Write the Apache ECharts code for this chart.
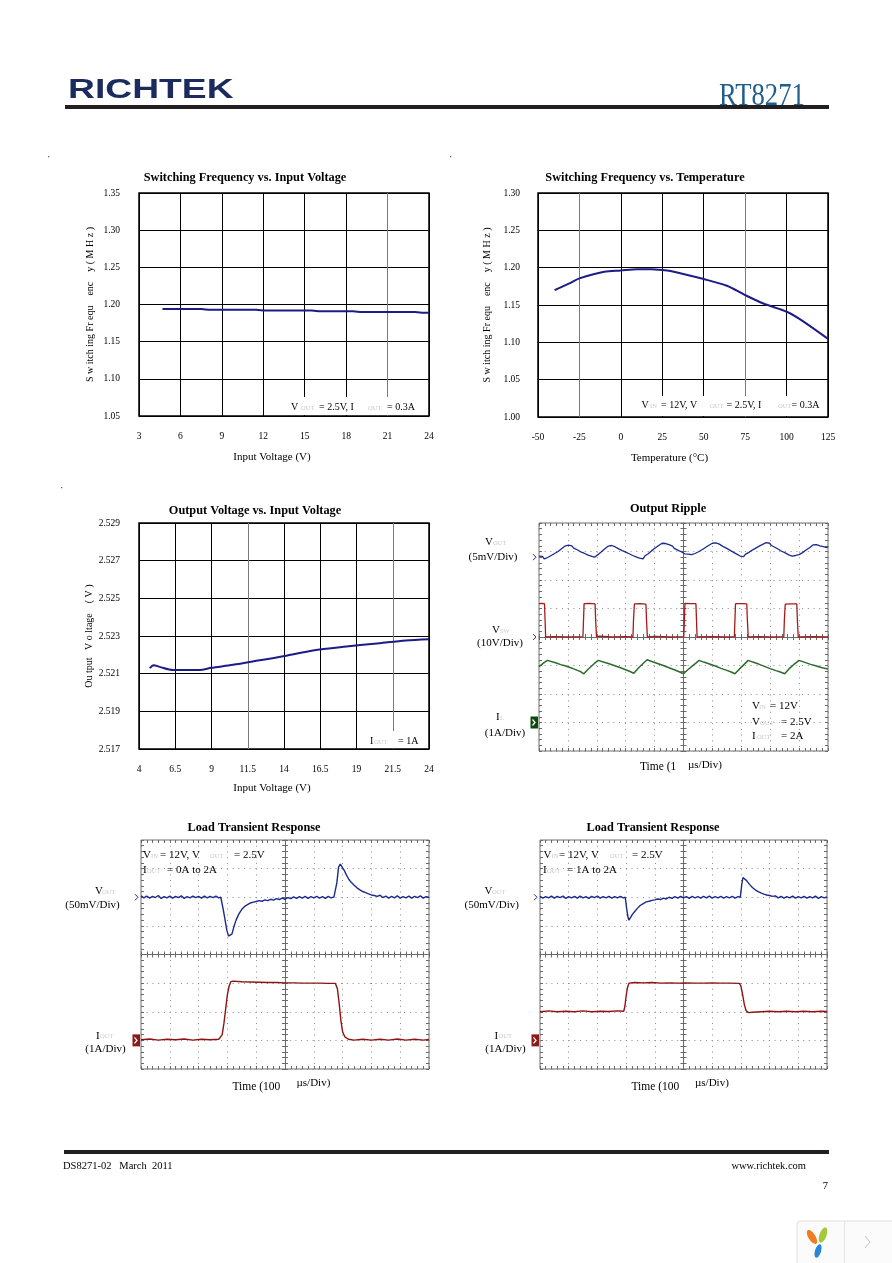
<!DOCTYPE html>
<html><head><meta charset="utf-8">
<script src="https://cdn.jsdelivr.net/npm/echarts@6.0.0/dist/echarts.min.js"></script>
<style>html,body{margin:0;padding:0;background:#fff}#c{width:892px;height:1263px}</style>
</head><body><div id="c"></div>
<script>
const SERIF = 'Liberation Serif';
const BLUE = '#1b2a8c', RED = '#a31b1b', GREEN = '#2c6b2c', IRED = '#8e1414';

// ---- Chart 1: Switching Frequency vs. Input Voltage
const c1Vin  = [4.7, 6, 7.5, 8, 10, 11.5, 12, 14, 15.5, 16, 18.5, 19, 21, 23, 23.5, 24];
const c1Freq = [1.194, 1.194, 1.194, 1.193, 1.193, 1.193, 1.192, 1.192, 1.192, 1.191, 1.191, 1.190, 1.190, 1.190, 1.189, 1.189];

// ---- Chart 2: Switching Frequency vs. Temperature
const c2Temp = [-40, -30, -25, -10, 0, 10, 18, 25, 30, 50, 64, 75, 86, 100, 108, 125];
const c2Freq = [1.170, 1.180, 1.1856, 1.1945, 1.1963, 1.198, 1.198, 1.197, 1.1955, 1.1847, 1.1758, 1.1633, 1.152, 1.141, 1.131, 1.1046];

// ---- Chart 3: Output Voltage vs. Input Voltage
const c3Vin  = [4.74, 5.01, 5.43, 6.34, 8.18, 8.99, 10.48, 12.32, 14.16, 16.0, 18.3, 20.6, 22.4, 24];
const c3Vout = [2.52129, 2.52145, 2.52136, 2.5212, 2.5212, 2.52131, 2.52147, 2.52171, 2.52195, 2.52223, 2.52244, 2.52262, 2.52276, 2.52283];
const c3VinMin = 4, c3VoutMin = 2.517;

// ---- Scope traces: [time in divisions 0..10, level in divisions -4..4]
const ripVout = [[0.00,2.84],[0.06,2.78],[0.12,2.83],[0.18,2.74],[0.24,2.71],[0.30,2.79],[0.36,2.76],[0.42,2.86],[0.48,2.84],[0.54,2.93],[0.60,2.90],[0.66,3.00],[0.72,3.04],[0.78,3.10],[0.84,3.08],[0.90,3.19],[0.96,3.26],[1.02,3.22],[1.08,3.18],[1.14,3.20],[1.20,3.12],[1.26,3.15],[1.32,3.06],[1.38,3.09],[1.44,2.99],[1.50,3.03],[1.56,2.94],[1.62,2.97],[1.68,2.88],[1.74,2.92],[1.80,2.84],[1.86,2.87],[1.92,2.80],[1.98,2.86],[2.04,2.89],[2.10,2.95],[2.16,2.99],[2.22,3.06],[2.28,3.10],[2.34,3.16],[2.40,3.19],[2.46,3.25],[2.52,3.21],[2.58,3.24],[2.64,3.16],[2.70,3.18],[2.76,3.09],[2.82,3.12],[2.88,3.03],[2.94,3.06],[3.00,2.98],[3.06,3.01],[3.12,2.92],[3.18,2.95],[3.24,2.86],[3.30,2.90],[3.36,2.81],[3.42,2.84],[3.48,2.77],[3.54,2.82],[3.60,2.74],[3.66,2.84],[3.72,2.87],[3.78,2.92],[3.84,2.96],[3.90,3.03],[3.96,3.06],[4.02,3.12],[4.08,3.16],[4.14,3.21],[4.20,3.24],[4.26,3.29],[4.32,3.26],[4.38,3.28],[4.44,3.21],[4.50,3.24],[4.56,3.17],[4.62,3.19],[4.68,3.11],[4.74,3.14],[4.80,3.05],[4.86,3.08],[4.92,2.99],[4.98,3.02],[5.04,2.92],[5.10,2.86],[5.16,2.91],[5.22,2.84],[5.28,2.89],[5.34,2.86],[5.40,2.93],[5.46,2.95],[5.52,2.99],[5.58,3.02],[5.64,3.06],[5.70,3.10],[5.76,3.14],[5.82,3.18],[5.88,3.22],[5.94,3.26],[6.00,3.29],[6.06,3.33],[6.12,3.30],[6.18,3.34],[6.24,3.26],[6.30,3.24],[6.36,3.18],[6.42,3.20],[6.48,3.12],[6.54,3.14],[6.60,3.05],[6.66,3.08],[6.72,2.98],[6.78,3.00],[6.84,2.91],[6.90,2.94],[6.96,2.84],[7.02,2.89],[7.08,2.82],[7.14,2.90],[7.20,2.92],[7.26,2.97],[7.32,3.00],[7.38,3.05],[7.44,3.08],[7.50,3.12],[7.56,3.14],[7.62,3.19],[7.68,3.22],[7.74,3.25],[7.80,3.28],[7.86,3.31],[7.92,3.27],[7.98,3.29],[8.04,3.21],[8.10,3.23],[8.16,3.15],[8.22,3.17],[8.28,3.08],[8.34,3.10],[8.40,3.01],[8.46,3.03],[8.52,2.95],[8.58,2.97],[8.64,2.88],[8.70,2.91],[8.76,2.84],[8.82,2.80],[8.88,2.86],[8.94,2.83],[9.00,2.89],[9.06,2.93],[9.12,2.96],[9.18,3.02],[9.24,3.05],[9.30,3.10],[9.36,3.13],[9.42,3.19],[9.48,3.23],[9.54,3.28],[9.60,3.24],[9.66,3.26],[9.72,3.20],[9.78,3.22],[9.84,3.17],[9.90,3.19],[9.96,3.14],[10.00,3.16]];
const ripVsw = [[0,1.17],[0.1,1.18],[0.19,1.17],[0.21,0.6],[0.23,0.0],[0.5,0.01],[1.0,0.0],[1.52,0.01],[1.54,0.6],[1.56,1.17],[1.75,1.18],[1.94,1.16],[1.96,0.6],[1.99,0.01],[2.1,0.03],[2.5,0.0],[3.0,0.01],[3.25,0.0],[3.27,0.6],[3.30,1.16],[3.5,1.17],[3.70,1.15],[3.72,0.6],[3.75,0.0],[4.0,0.02],[4.5,0.0],[5.01,0.01],[5.03,0.6],[5.05,1.18],[5.25,1.17],[5.43,1.17],[5.45,0.6],[5.47,0.0],[6.0,0.01],[6.5,0.0],[6.76,0.01],[6.78,0.6],[6.80,1.17],[7.0,1.17],[7.19,1.16],[7.21,0.6],[7.24,0.0],[7.6,0.01],[8.0,0.0],[8.47,0.01],[8.49,0.6],[8.52,1.15],[8.7,1.16],[8.92,1.16],[8.94,0.6],[8.97,0.0],[9.5,0.01],[10,0.0]];
const ripIL = [[0,-1.04],[0.1,-0.96],[0.2,-0.88],[0.29,-0.82],[0.45,-0.87],[0.6,-0.91],[0.75,-0.97],[0.9,-1.01],[1.05,-1.06],[1.2,-1.12],[1.35,-1.18],[1.45,-1.22],[1.55,-1.29],[1.7,-1.13],[1.85,-0.99],[1.95,-0.9],[2.05,-0.82],[2.2,-0.87],[2.4,-0.93],[2.6,-1.0],[2.8,-1.07],[3.0,-1.15],[3.15,-1.21],[3.28,-1.27],[3.45,-1.08],[3.6,-0.93],[3.74,-0.80],[3.9,-0.86],[4.1,-0.93],[4.3,-1.0],[4.5,-1.08],[4.7,-1.16],[4.85,-1.22],[5.0,-1.29],[5.15,-1.15],[5.3,-1.02],[5.45,-0.9],[5.54,-0.82],[5.7,-0.88],[5.9,-0.95],[6.1,-1.02],[6.3,-1.1],[6.5,-1.17],[6.65,-1.23],[6.78,-1.29],[6.95,-1.11],[7.1,-0.96],[7.24,-0.82],[7.4,-0.88],[7.6,-0.95],[7.8,-1.03],[8.0,-1.11],[8.2,-1.18],[8.35,-1.23],[8.5,-1.29],[8.65,-1.12],[8.8,-0.98],[9.0,-0.82],[9.2,-0.89],[9.4,-0.96],[9.6,-1.02],[9.8,-1.08],[10,-1.12]];

const lt1Vout = [[0,2.05],[0.1,1.98],[0.2,2.04],[0.3,1.97],[0.4,2.03],[0.5,1.99],[0.6,2.06],[0.7,1.96],[0.8,2.02],[0.9,1.98],[1.0,2.04],[1.1,1.97],[1.2,2.03],[1.3,1.99],[1.4,2.05],[1.5,1.96],[1.6,2.02],[1.7,1.98],[1.8,2.04],[1.9,1.99],[2.0,2.03],[2.1,1.97],[2.2,2.04],[2.3,1.98],[2.4,2.03],[2.5,1.99],[2.6,2.04],[2.7,1.98],[2.77,2.0],[2.85,1.6],[2.92,1.2],[2.98,0.85],[3.04,0.64],[3.1,0.62],[3.16,0.72],[3.22,0.95],[3.3,1.2],[3.4,1.42],[3.5,1.58],[3.6,1.68],[3.7,1.74],[3.8,1.80],[3.9,1.83],[4.0,1.85],[4.1,1.88],[4.2,1.86],[4.3,1.91],[4.4,1.88],[4.5,1.93],[4.6,1.90],[4.7,1.95],[4.8,1.92],[4.9,1.97],[5.0,1.93],[5.1,1.99],[5.2,1.95],[5.3,2.01],[5.4,1.96],[5.5,2.02],[5.6,1.97],[5.7,2.03],[5.8,1.96],[5.9,2.02],[6.0,1.98],[6.1,2.03],[6.2,1.97],[6.3,2.02],[6.4,1.96],[6.5,2.03],[6.6,1.98],[6.7,2.01],[6.75,2.0],[6.8,2.5],[6.86,3.05],[6.92,3.16],[6.98,3.12],[7.05,2.95],[7.13,2.78],[7.22,2.62],[7.3,2.52],[7.4,2.42],[7.5,2.33],[7.6,2.26],[7.7,2.20],[7.8,2.16],[7.9,2.12],[8.0,2.08],[8.1,2.06],[8.2,2.03],[8.3,2.07],[8.4,1.99],[8.5,2.04],[8.6,1.97],[8.7,2.03],[8.8,1.98],[8.9,2.05],[9.0,1.97],[9.1,2.02],[9.2,1.98],[9.3,2.04],[9.4,1.97],[9.5,2.03],[9.6,1.99],[9.7,2.05],[9.8,1.97],[9.9,2.02],[10,1.99]];
const lt1Iout = [[0,-2.98],[0.3,-2.95],[0.6,-2.99],[0.9,-2.96],[1.2,-2.98],[1.5,-2.95],[1.8,-2.99],[2.1,-2.96],[2.4,-2.98],[2.7,-2.96],[2.76,-2.95],[2.82,-2.8],[2.88,-2.4],[2.94,-1.9],[3.0,-1.4],[3.06,-1.1],[3.12,-0.95],[3.2,-0.93],[3.5,-0.95],[3.8,-0.96],[4.1,-0.97],[4.4,-0.98],[4.7,-0.98],[5.0,-0.99],[5.3,-0.99],[5.6,-1.0],[5.9,-1.0],[6.2,-1.0],[6.5,-1.01],[6.75,-1.01],[6.82,-1.2],[6.88,-1.7],[6.94,-2.3],[7.0,-2.7],[7.08,-2.88],[7.2,-2.96],[7.4,-2.99],[7.7,-2.96],[8.0,-2.99],[8.3,-2.96],[8.6,-2.99],[8.9,-2.95],[9.2,-2.99],[9.5,-2.96],[9.8,-2.99],[10,-2.97]];

const lt2Vout = [[0,2.03],[0.1,1.97],[0.2,2.02],[0.3,1.98],[0.4,2.04],[0.5,1.97],[0.6,2.03],[0.7,1.99],[0.8,2.04],[0.9,1.96],[1.0,2.02],[1.1,1.98],[1.2,2.03],[1.3,1.97],[1.4,2.04],[1.5,1.98],[1.6,2.02],[1.7,1.96],[1.8,2.03],[1.9,1.99],[2.0,2.04],[2.1,1.97],[2.2,2.02],[2.3,1.98],[2.4,2.03],[2.5,1.97],[2.6,2.02],[2.7,1.98],[2.8,2.03],[2.9,1.98],[2.97,2.0],[3.02,1.6],[3.07,1.28],[3.1,1.2],[3.15,1.26],[3.22,1.4],[3.3,1.5],[3.4,1.62],[3.5,1.72],[3.6,1.78],[3.7,1.84],[3.8,1.86],[3.9,1.89],[4.0,1.91],[4.1,1.94],[4.2,1.92],[4.3,1.97],[4.4,1.94],[4.5,2.0],[4.6,1.96],[4.7,2.02],[4.8,1.97],[4.9,2.03],[5.0,1.98],[5.1,2.02],[5.2,1.96],[5.3,2.03],[5.4,1.98],[5.5,2.02],[5.6,1.97],[5.7,2.03],[5.8,1.98],[5.9,2.04],[6.0,1.97],[6.1,2.02],[6.2,1.98],[6.3,2.03],[6.4,1.97],[6.5,2.02],[6.6,1.98],[6.7,2.03],[6.8,1.97],[6.9,2.02],[6.98,2.0],[7.03,2.45],[7.07,2.69],[7.12,2.66],[7.2,2.58],[7.3,2.45],[7.4,2.34],[7.5,2.26],[7.6,2.2],[7.7,2.15],[7.8,2.11],[7.9,2.08],[8.0,2.06],[8.1,2.03],[8.2,2.05],[8.3,1.98],[8.4,2.03],[8.5,1.97],[8.6,2.02],[8.7,1.98],[8.8,2.04],[8.9,1.97],[9.0,2.02],[9.1,1.98],[9.2,2.03],[9.3,1.97],[9.4,2.02],[9.5,1.98],[9.6,2.04],[9.7,1.96],[9.8,2.02],[9.9,1.98],[10,2.01]];
const lt2Iout = [[0,-2.0],[0.3,-1.97],[0.6,-2.0],[0.9,-1.98],[1.2,-2.0],[1.5,-1.97],[1.8,-2.0],[2.1,-1.98],[2.4,-1.99],[2.7,-1.97],[2.92,-1.98],[2.96,-1.8],[3.0,-1.45],[3.05,-1.15],[3.1,-1.0],[3.15,-0.97],[3.3,-0.98],[3.6,-0.99],[3.9,-0.98],[4.2,-1.0],[4.5,-0.99],[4.8,-1.0],[5.1,-0.99],[5.4,-1.0],[5.7,-1.0],[6.0,-0.99],[6.3,-1.0],[6.6,-1.0],[6.95,-1.01],[7.0,-1.1],[7.06,-1.4],[7.12,-1.75],[7.18,-1.96],[7.26,-2.03],[7.4,-2.02],[7.7,-2.0],[8.0,-1.98],[8.3,-2.0],[8.6,-1.98],[8.9,-2.0],[9.2,-1.98],[9.5,-2.0],[9.8,-1.98],[10,-1.99]];

// reference-level markers on the scope screens (level in divisions)
const scopeRefs = [
  {scope:0, level:2.8, kind:'chev', color:BLUE},
  {scope:0, level:0, kind:'chev', color:RED},
  {scope:0, level:-3, kind:'box', color:'#0c4a0c'},
  {scope:1, level:2, kind:'chev', color:BLUE},
  {scope:1, level:-3, kind:'box', color:'#8b1a1a'},
  {scope:2, level:2, kind:'chev', color:BLUE},
  {scope:2, level:-3, kind:'box', color:'#8b1a1a'}
];

// ------------------------------------------------------------
const chart = echarts.init(document.getElementById('c'), null, {renderer:'canvas'});

const grids = [
  {left:139, top:193, width:290, height:223},
  {left:538, top:193, width:290, height:224},
  {left:139, top:523, width:290, height:226}
].map(g => Object.assign({show:true, borderColor:'#000', borderWidth:1.5, backgroundColor:'#fff'}, g));
const scopeGrids = [
  {left:539, top:523, width:289, height:228},
  {left:141, top:840, width:288, height:229},
  {left:540, top:840, width:287, height:229}
];
scopeGrids.forEach(g => grids.push(Object.assign({show:true, borderColor:'#6e6e6e', borderWidth:1, backgroundColor:'#fff'}, g)));

const tickLbl = (margin, fmt) => {
  const o = {fontFamily:SERIF, fontSize:9.5, color:'#000', margin:margin};
  if (fmt) o.formatter = fmt;
  return o;
};
const nameStyle = (pad) => ({fontFamily:SERIF, fontSize:11, color:'#000', padding:pad || 0});
const K = '#000', Gy = '#7a7a7a';

const xAxes = [
  {type:'value', gridIndex:0, min:3, max:24, interval:3,
   axisLine:{show:false, onZero:false}, axisTick:{show:false}, axisLabel:tickLbl(15),
   splitLine:{show:true, lineStyle:{width:1, color:[K,K,K,K,K,K,Gy,K]}},
   name:'Input Voltage (V)', nameLocation:'middle', nameGap:36, nameTextStyle:nameStyle([0,24,0,0])},
  {type:'value', gridIndex:1, min:-50, max:125, interval:25,
   axisLine:{show:false, onZero:false}, axisTick:{show:false}, axisLabel:tickLbl(15),
   splitLine:{show:true, lineStyle:{width:1, color:[K,Gy,K,K,K,Gy,K,K]}},
   name:'Temperature (°C)', nameLocation:'middle', nameGap:36, nameTextStyle:nameStyle([0,27,0,0])},
  {type:'value', gridIndex:2, min:0, max:20, interval:2.5,
   axisLine:{show:false, onZero:false}, axisTick:{show:false},
   axisLabel:tickLbl(15, v => String(+(v + c3VinMin).toFixed(1))),
   splitLine:{show:true, lineStyle:{width:1, color:[K,K,K,Gy,K,K,K,Gy,K]}},
   name:'Input Voltage (V)', nameLocation:'middle', nameGap:34, nameTextStyle:nameStyle([0,24,0,0])}
];
const yAxes = [
  {type:'value', gridIndex:0, min:1.05, max:1.35, interval:0.05,
   axisLine:{show:false, onZero:false}, axisTick:{show:false}, axisLabel:tickLbl(19, v => v.toFixed(2)),
   splitLine:{show:true, lineStyle:{width:1, color:K}},
   name:'S w itch ing Fr equ    enc    y ( M H z )', nameLocation:'middle', nameRotate:90, nameGap:44,
   nameTextStyle:{fontFamily:SERIF, fontSize:10, color:'#000'}},
  {type:'value', gridIndex:1, min:1.0, max:1.3, interval:0.05,
   axisLine:{show:false, onZero:false}, axisTick:{show:false}, axisLabel:tickLbl(18, v => v.toFixed(2)),
   splitLine:{show:true, lineStyle:{width:1, color:K}},
   name:'S w itch ing Fr equ    enc    y ( M H z )', nameLocation:'middle', nameRotate:90, nameGap:46,
   nameTextStyle:{fontFamily:SERIF, fontSize:10, color:'#000'}},
  {type:'value', gridIndex:2, min:0, max:12, interval:2,
   axisLine:{show:false, onZero:false}, axisTick:{show:false},
   axisLabel:tickLbl(19, v => (c3VoutMin + v / 1000).toFixed(3)),
   splitLine:{show:true, lineStyle:{width:1, color:K}},
   name:'Ou tput   V o ltage    ( V )', nameLocation:'middle', nameRotate:90, nameGap:45,
   nameTextStyle:{fontFamily:SERIF, fontSize:10, color:'#000'}}
];

function scopeAxis(isX, gi, position, o) {
  const tick = {color:'#6a6a6a', width:1};
  return {
    type:'value', gridIndex:gi, position:position,
    min: isX ? -5 : -4, max: isX ? 5 : 4, interval:1,
    axisLine:{show:!!o.line, onZero:!!o.onZero, onZeroAxisIndex:o.onZeroIdx, lineStyle:{color:'#6a6a6a', width:1}},
    axisTick:{show:true, inside:!!o.inside, length:3, lineStyle:tick},
    minorTick:{show:true, splitNumber:5, length:3, lineStyle:tick},
    axisLabel:{show:false},
    splitLine:{show:!!o.split, lineStyle:{color:'#8a8a8a', width:1, type:[1, 4.72]}},
    minorSplitLine:{show:false}
  };
}
const scopeX = [], scopeY = [];
scopeGrids.forEach((g, s) => {
  const gi = 3 + s;
  const xb = xAxes.length, yl = yAxes.length;
  scopeX.push(xb); scopeY.push(yl);
  xAxes.push(scopeAxis(true, gi, 'bottom', {inside:true, split:true}));
  xAxes.push(scopeAxis(true, gi, 'top', {inside:true}));
  xAxes.push(scopeAxis(true, gi, 'bottom', {line:true, onZero:true, onZeroIdx:yl, inside:false}));
  xAxes.push(scopeAxis(true, gi, 'bottom', {onZero:true, onZeroIdx:yl, inside:true}));
  yAxes.push(scopeAxis(false, gi, 'left', {inside:true, split:true}));
  yAxes.push(scopeAxis(false, gi, 'right', {inside:true}));
  yAxes.push(scopeAxis(false, gi, 'left', {line:true, onZero:true, onZeroIdx:xb, inside:false}));
  yAxes.push(scopeAxis(false, gi, 'left', {onZero:true, onZeroIdx:xb, inside:true}));
});

const lineS = (xi, yi, data, color, width, smooth) => ({
  type:'line', xAxisIndex:xi, yAxisIndex:yi, data:data, showSymbol:false, symbol:'none',
  smooth:smooth || false, lineStyle:{color:color, width:width}, silent:true, z:3
});
const toScope = d => d.map(p => [p[0] - 5, p[1]]);

const series = [
  lineS(0, 0, c1Vin.map((x, i) => [x, c1Freq[i]]), '#1c1c86', 2),
  lineS(1, 1, c2Temp.map((x, i) => [x, c2Freq[i]]), '#1c1c86', 2, 0.3),
  lineS(2, 2, c3Vin.map((x, i) => [x - c3VinMin, (c3Vout[i] - c3VoutMin) * 1000]), '#1c1c86', 2, 0.3),
  lineS(scopeX[0], scopeY[0], toScope(ripVout), BLUE, 1.3),
  lineS(scopeX[0], scopeY[0], toScope(ripVsw), RED, 1.3),
  lineS(scopeX[0], scopeY[0], toScope(ripIL), GREEN, 1.5),
  lineS(scopeX[1], scopeY[1], toScope(lt1Vout), BLUE, 1.4),
  lineS(scopeX[1], scopeY[1], toScope(lt1Iout), IRED, 1.4),
  lineS(scopeX[2], scopeY[2], toScope(lt2Vout), BLUE, 1.4),
  lineS(scopeX[2], scopeY[2], toScope(lt2Iout), IRED, 1.4)
];

chart.setOption({
  animation:false,
  backgroundColor:'#fff',
  textStyle:{fontFamily:SERIF},
  grid:grids, xAxis:xAxes, yAxis:yAxes, series:series
});

// ---------------- text & decorations ----------------
const SUB = {fontSize:6.5, fill:'#c9c9c9'};
function T(x, y, text, o) {
  return {type:'text', x:x, y:y, z:20, silent:true,
    style:Object.assign({text:text, fontFamily:SERIF, fontSize:11, fill:'#000', align:'left', verticalAlign:'middle'}, o || {})};
}
const B = {fontWeight:'bold', fontSize:12.3, align:'center'};
const A = {fontSize:10};
const G = [
  // header
  {type:'rect', z:5, shape:{x:65, y:105, width:764, height:4}, style:{fill:'#231f20'}},
  {type:'text', z:6, x:68, y:90.5, scaleX:1.38, style:{text:'RICHTEK', fontFamily:'Liberation Sans', fontWeight:'bold', fontSize:27, fill:'#1b2b5e', align:'left', verticalAlign:'middle'}},
  {type:'text', z:6, x:719, y:97, scaleX:0.86, style:{text:'RT8271', fontFamily:SERIF, fontSize:31, fill:'#1f5d8d', align:'left', verticalAlign:'middle'}},
  // footer
  {type:'rect', z:5, shape:{x:64, y:1150, width:765, height:4}, style:{fill:'#231f20'}},
  T(63, 1166, 'DS8271-02   March  2011', {fontSize:10.5}),
  T(806, 1166, 'www.richtek.com', {fontSize:10.5, align:'right'}),
  T(828, 1186, '7', {fontSize:10.5, align:'right'}),
  // stray dots
  {type:'rect', z:5, shape:{x:48, y:156, width:1.3, height:1.3}, style:{fill:'#666'}},
  {type:'rect', z:5, shape:{x:450, y:156, width:1.3, height:1.3}, style:{fill:'#666'}},
  {type:'rect', z:5, shape:{x:61, y:487, width:1.3, height:1.3}, style:{fill:'#666'}},
  // titles
  T(245, 178, 'Switching Frequency vs. Input Voltage', B),
  T(645, 178, 'Switching Frequency vs. Temperature', B),
  T(255, 511, 'Output Voltage vs. Input Voltage', B),
  T(668, 509, 'Output Ripple', B),
  T(254, 828, 'Load Transient Response', B),
  T(653, 828, 'Load Transient Response', B),
  // chart 1 condition
  {type:'rect', z:15, shape:{x:286, y:397, width:142, height:18}, style:{fill:'#fff'}},
  T(291, 407.5, 'V', A), T(301, 408.5, 'OUT', SUB), T(319, 407.5, '= 2.5V, I', A), T(368, 408.5, 'OUT', SUB), T(387, 407.5, '= 0.3A', A),
  // chart 2 condition
  {type:'rect', z:15, shape:{x:637, y:396, width:190, height:20}, style:{fill:'#fff'}},
  T(641.5, 405.5, 'V', A), T(650, 406.5, 'IN', SUB), T(661, 405.5, '= 12V, V', A), T(710, 406.5, 'OUT', SUB), T(726.5, 405.5, '= 2.5V, I', A), T(778, 406.5, 'OUT', SUB), T(791.5, 405.5, '= 0.3A', A),
  // chart 3 condition
  {type:'rect', z:15, shape:{x:365, y:731, width:63, height:17}, style:{fill:'#fff'}},
  T(370, 741, 'I', A), T(374, 742, 'OUT', SUB), T(398, 741, '= 1A', A),
  // Output ripple labels
  T(485, 542, 'V'), T(493, 543, 'OUT', SUB), T(493, 557, '(5mV/Div)', {align:'center'}),
  T(492, 630, 'V'), T(500, 631, 'SW', SUB), T(500, 643, '(10V/Div)', {align:'center'}),
  T(496, 717, 'I'), T(500, 718, 'L', SUB), T(505, 733, '(1A/Div)', {align:'center'}),
  T(752, 706, 'V'), T(759, 707, 'IN', SUB), T(770, 706, '= 12V'),
  T(752, 722, 'V'), T(760, 723, 'OUT', SUB), T(781, 722, '= 2.5V'),
  T(752, 736, 'I'), T(757, 737, 'OUT', SUB), T(781, 736, '= 2A'),
  T(640, 767, 'Time (1', {fontSize:11.5}), T(688, 765, 'µs/Div)', {fontSize:11}),
  // Load transient left
  T(143, 855, 'V'), T(151, 856, 'IN', SUB), T(160, 855, '= 12V, V'), T(210, 856, 'OUT', SUB), T(234, 855, '= 2.5V'),
  T(143, 870.5, 'I'), T(147, 871.5, 'OUT', SUB), T(167, 870.5, '= 0A to 2A'),
  T(95, 891, 'V'), T(102, 892, 'OUT', SUB), T(92.5, 905, '(50mV/Div)', {align:'center'}),
  T(96, 1035.7, 'I'), T(100, 1036.7, 'OUT', SUB), T(105.5, 1049.3, '(1A/Div)', {align:'center'}),
  T(232.5, 1086.5, 'Time (100', {fontSize:11.5}), T(296.5, 1083.5, 'µs/Div)', {fontSize:11}),
  // Load transient right
  T(543.5, 855, 'V'), T(551.5, 856, 'IN', SUB), T(559, 855, '= 12V, V'), T(610, 856, 'OUT', SUB), T(632, 855, '= 2.5V'),
  T(543, 870.5, 'I'), T(547, 871.5, 'OUT', SUB), T(567, 870.5, '= 1A to 2A'),
  T(484.5, 891, 'V'), T(492, 892, 'OUT', SUB), T(491.7, 905, '(50mV/Div)', {align:'center'}),
  T(494.5, 1035.7, 'I'), T(498.5, 1036.7, 'OUT', SUB), T(505.5, 1049.3, '(1A/Div)', {align:'center'}),
  T(631.5, 1086.5, 'Time (100', {fontSize:11.5}), T(695, 1083.5, 'µs/Div)', {fontSize:11}),
  // viewer widget (bottom right)
  {type:'rect', z:5, shape:{x:797, y:1221, width:100, height:46, r:3}, style:{fill:'#fbfbfb', stroke:'#e0e0e0', lineWidth:1}},
  {type:'line', z:6, shape:{x1:844.5, y1:1222, x2:844.5, y2:1263}, style:{stroke:'#e4e4e4', lineWidth:1}},
  {type:'polyline', z:6, shape:{points:[[865, 1236], [870, 1242], [865, 1248]]}, style:{stroke:'#c2c2c2', fill:null, lineWidth:1}},
  {type:'ellipse', z:6, x:812, y:1237, rotation:0.55, shape:{cx:0, cy:0, rx:3.5, ry:8}, style:{fill:'#ef7d22'}},
  {type:'ellipse', z:6, x:823, y:1235, rotation:-0.35, shape:{cx:0, cy:0, rx:3.5, ry:8}, style:{fill:'#a3c93a'}},
  {type:'ellipse', z:6, x:818, y:1251, rotation:-0.3, shape:{cx:0, cy:0, rx:3, ry:7}, style:{fill:'#2b86d6'}}
];

// reference markers placed through the scope axes
scopeRefs.forEach(r => {
  const p = chart.convertToPixel({xAxisIndex:scopeX[r.scope], yAxisIndex:scopeY[r.scope]}, [-5, r.level]);
  const x = p[0], y = p[1];
  if (r.kind === 'chev') {
    G.push({type:'polyline', z:25, shape:{points:[[x - 6, y - 3], [x - 3, y], [x - 6, y + 3]]}, style:{stroke:r.color, fill:null, lineWidth:1}});
  } else {
    G.push({type:'rect', z:25, shape:{x:x - 8.5, y:y - 6, width:7.5, height:12}, style:{fill:r.color}});
    G.push({type:'polyline', z:26, shape:{points:[[x - 6.5, y - 3], [x - 4, y], [x - 6.5, y + 3]]}, style:{stroke:'#fff', fill:null, lineWidth:1.3}});
  }
});
chart.setOption({graphic:G});
</script>
</body></html>
